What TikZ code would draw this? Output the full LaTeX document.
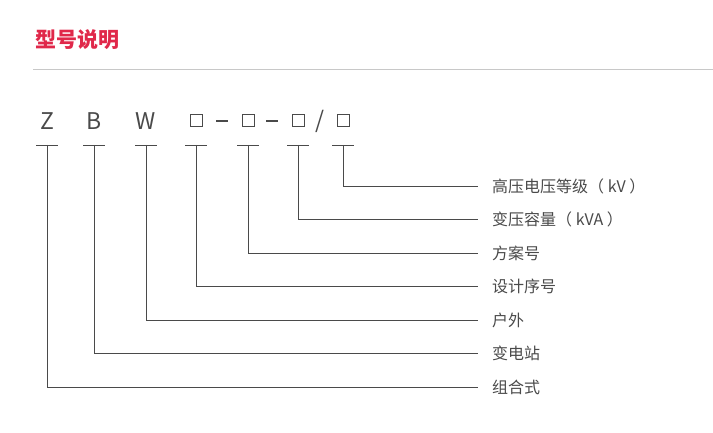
\documentclass[tikz,border=0pt]{standalone}
\usepackage{fontspec}
\setmainfont{Noto Sans CJK SC}
\definecolor{brandred}{HTML}{E0284A}
\definecolor{txtgray}{HTML}{4A4A4A}
\definecolor{rulegray}{HTML}{C8C8C8}
\begin{document}
\begin{tikzpicture}[
  x=1pt, y=-1pt,
  ln/.style={draw=txtgray, line width=0.8pt},
  code/.style={font=\fontsize{23}{23}\selectfont, text=txtgray, inner sep=0pt},
  sq/.style={draw=txtgray, line width=1pt, minimum size=12pt, inner sep=0pt},
  lbl/.style={font=\fontsize{16}{18}\selectfont, text=txtgray, anchor=west, inner sep=0pt},
]
\useasboundingbox (0,0) rectangle (713,433);

\node [font=\fontsize{21}{21}\selectfont\bfseries, text=brandred, anchor=west, inner sep=0pt] (title) at (35,40) {型号说明};
\draw [rulegray, line width=1pt] (33,70) -- (713,70);

% code letters
\node [code] (cz) at (47,121) {Z};
\node [code] (cb) at (94,121) {B};
\node [code] (cw) at (146,121) {W};
\node [sq] (c1) at (196,121) {};
\node [sq] (c2) at (248,121) {};
\node [sq] (c3) at (298,121) {};
\node [code] (sl) at (320,121) {/};
\node [sq] (c4) at (343,121) {};
\draw [ln, line width=1.3pt] (216,121) -- (228,121);
\draw [ln, line width=1.3pt] (266,121) -- (278,121);

% labels
\node [lbl] (l4) at (492,186) {高压电压等级（ kV ）};
\node [lbl] (l3) at (492,219) {变压容量（ kVA ）};
\node [lbl] (l2) at (492,253) {方案号};
\node [lbl] (l1) at (492,286) {设计序号};
\node [lbl] (lw) at (492,320) {户外};
\node [lbl] (lb) at (492,353) {变电站};
\node [lbl] (lz) at (492,387) {组合式};

% ticks and leaders
\foreach \c/\x/\y in {z/47/387, b/94/353, w/146/320, 1/196/286, 2/248/253, 3/298/219, 4/343/186}{
  \draw [ln] (\x-11,145) -- (\x+11,145);
  \coordinate (t\c) at (\x,145);
  \coordinate (e\c) at (478,\y);
  \draw [ln] (t\c) |- (e\c);
}
\end{tikzpicture}
\end{document}
